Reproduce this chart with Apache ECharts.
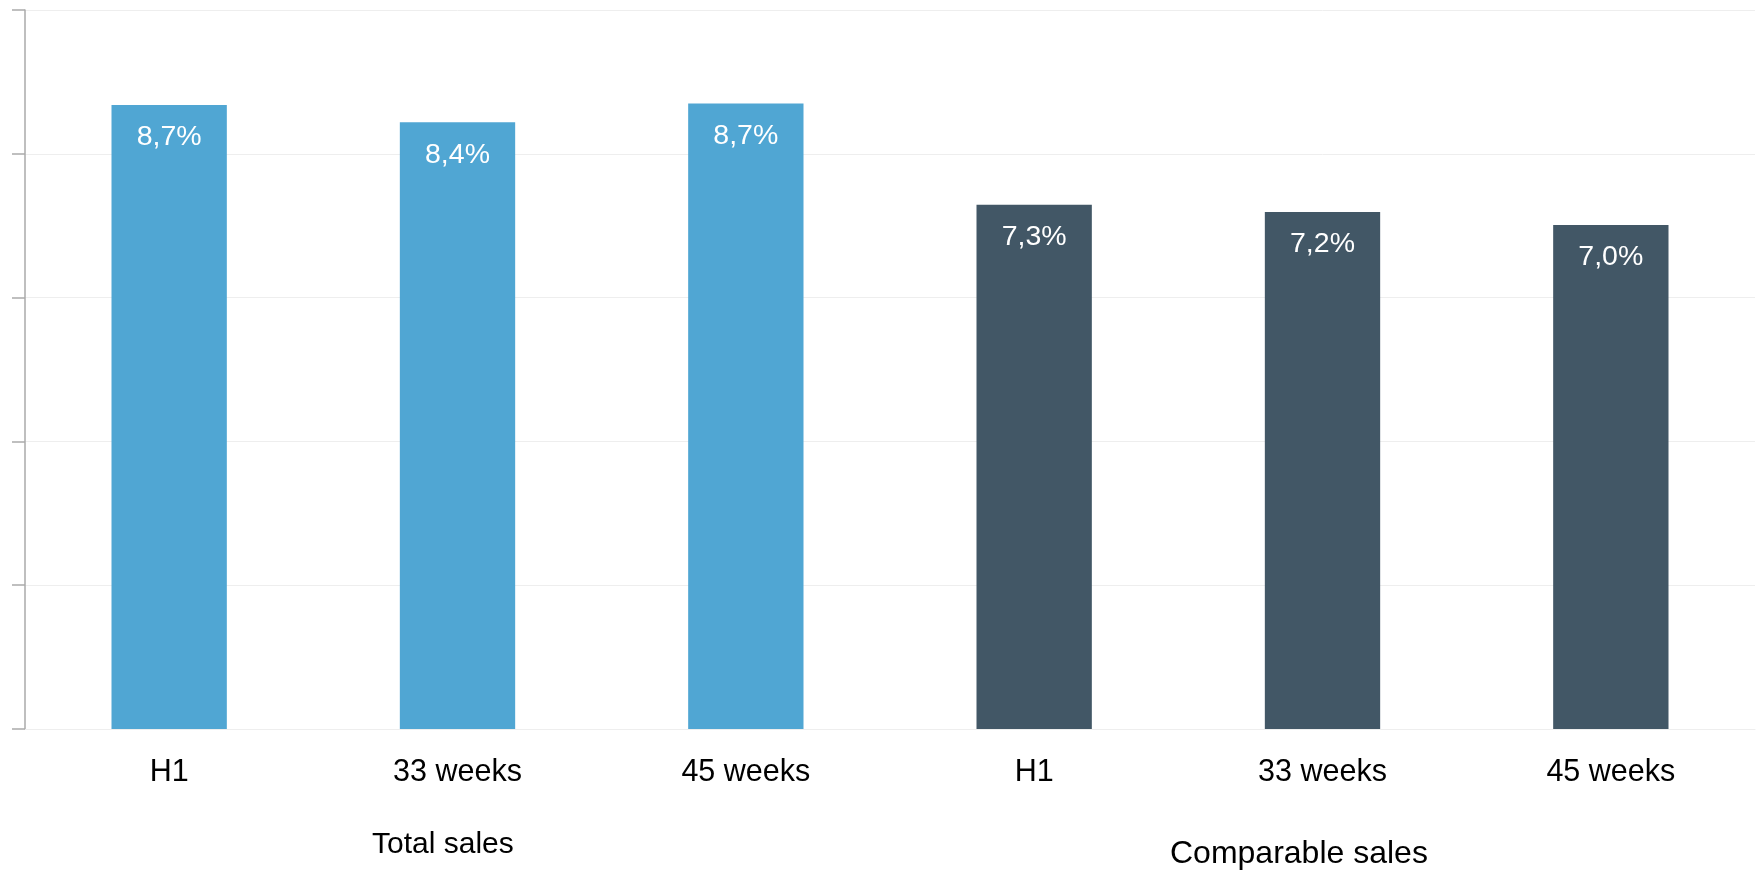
<!DOCTYPE html>
<html>
<head>
<meta charset="utf-8">
<script src="https://cdn.jsdelivr.net/npm/echarts@6/dist/echarts.min.js"></script>
<style>
html,body{margin:0;padding:0;background:#fff;}
#c{width:1763px;height:871px;}
</style>
</head>
<body>
<div id="c"></div>
<script>
const categories = ['H1', '33 weeks', '45 weeks', 'H1', '33 weeks', '45 weeks'];
const values = [8.68, 8.44, 8.70, 7.29, 7.19, 7.01];
const groupOf = [0, 0, 0, 1, 1, 1];
const groupNames = ['Total sales', 'Comparable sales'];
const groupColors = ['#50A6D3', '#425766'];

const font = '"Liberation Sans", Arial, sans-serif';
const chart = echarts.init(document.getElementById('c'));
chart.setOption({
  animation: false,
  grid: { left: 25, right: 8, top: 10, bottom: 142, containLabel: false },
  xAxis: {
    type: 'category',
    data: categories,
    axisLine: { show: true, lineStyle: { color: '#eeeeee', width: 1 } },
    axisTick: { show: false },
    axisLabel: { color: '#000', fontSize: 30.5, fontFamily: font, margin: 28 }
  },
  yAxis: {
    type: 'value',
    min: 0, max: 10, interval: 2,
    axisLine: { show: true, lineStyle: { color: '#aaaaaa', width: 1.5 } },
    axisTick: { show: true, length: 13, lineStyle: { color: '#aaaaaa', width: 1.5 } },
    axisLabel: { show: false },
    splitLine: { show: true, lineStyle: { color: '#eeeeee', width: 1 } }
  },
  series: [{
    type: 'bar',
    barWidth: '40%',
    data: values.map((v, i) => ({ value: v, itemStyle: { color: groupColors[groupOf[i]] } })),
    label: {
      show: true,
      position: 'insideTop',
      distance: 18,
      color: '#fff',
      fontSize: 28.5,
      fontFamily: font,
      formatter: p => p.value.toFixed(1).replace('.', ',') + '%'
    }
  }],
  graphic: [
    { type: 'text', left: 372, top: 830, style: { text: groupNames[0], fill: '#000', font: '30px ' + font } },
    { type: 'text', left: 1170, top: 838, style: { text: groupNames[1], fill: '#000', font: '32px ' + font } }
  ]
});
</script>
</body>
</html>
